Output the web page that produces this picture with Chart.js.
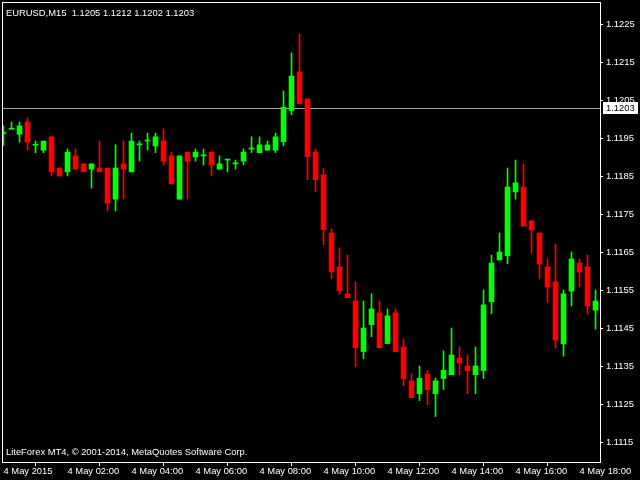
<!DOCTYPE html>
<html>
<head>
<meta charset="utf-8">
<script src="https://cdn.jsdelivr.net/npm/chart.js@4.4.1/dist/chart.umd.min.js"></script>
<style>
  html, body { margin: 0; padding: 0; background: #000; }
  #wrap { width: 640px; height: 480px; }
</style>
</head>
<body>
<div id="wrap"><canvas id="candles"></canvas></div>
<script>
// EURUSD M15, 4 May 2015 00:00 .. 18:30 (one bar per 15 minutes)
var opens  = [1.11962,1.11973,1.11960,1.11992,1.11931,1.11918,1.11953,1.11871,1.11861,1.11903,
              1.11882,1.11868,1.11871,1.11871,1.11789,1.11882,1.11861,1.11932,1.11942,1.11929,
              1.11942,1.11903,1.11789,1.11913,1.11900,1.11903,1.11913,1.11868,1.11892,1.11882,
              1.11889,1.11921,1.11911,1.11918,1.11918,1.11940,1.12022,1.12124,1.12053,1.11913,
              1.11853,1.11700,1.11611,1.11540,1.11521,1.11388,1.11459,1.11490,1.11409,1.11490,
              1.11400,1.11311,1.11277,1.11329,1.11277,1.11317,1.11327,1.11371,1.11350,1.11327,
              1.11338,1.11519,1.11629,1.11640,1.11808,1.11821,1.11732,1.11700,1.11611,1.11571,
              1.11408,1.11547,1.11621,1.11611,1.11497];
var highs  = [1.11982,1.11992,1.11992,1.12003,1.11942,1.11942,1.11953,1.11871,1.11921,1.11921,
              1.11882,1.11882,1.11942,1.11871,1.11932,1.11942,1.11963,1.11942,1.11963,1.11963,
              1.11974,1.11913,1.11903,1.11913,1.11921,1.11921,1.11913,1.11903,1.11892,1.11892,
              1.11921,1.11953,1.11953,1.11942,1.11963,1.12074,1.12174,1.12224,1.12053,1.11921,
              1.11871,1.11711,1.11661,1.11642,1.11571,1.11521,1.11540,1.11521,1.11500,1.11500,
              1.11421,1.11329,1.11350,1.11339,1.11318,1.11390,1.11450,1.11400,1.11379,1.11400,
              1.11550,1.11642,1.11700,1.11871,1.11892,1.11882,1.11732,1.11700,1.11632,1.11671,
              1.11550,1.11650,1.11632,1.11642,1.11550];
var lows   = [1.11930,1.11973,1.11939,1.11918,1.11911,1.11911,1.11850,1.11850,1.11850,1.11868,
              1.11861,1.11818,1.11861,1.11758,1.11758,1.11789,1.11861,1.11889,1.11918,1.11911,
              1.11879,1.11829,1.11789,1.11789,1.11889,1.11879,1.11850,1.11868,1.11861,1.11868,
              1.11879,1.11911,1.11911,1.11918,1.11911,1.11930,1.12011,1.12040,1.11840,1.11809,
              1.11669,1.11580,1.11538,1.11530,1.11348,1.11369,1.11427,1.11398,1.11409,1.11388,
              1.11298,1.11267,1.11259,1.11248,1.11217,1.11288,1.11327,1.11327,1.11277,1.11277,
              1.11317,1.11488,1.11629,1.11619,1.11789,1.11718,1.11647,1.11579,1.11518,1.11397,
              1.11376,1.11508,1.11558,1.11487,1.11447];
var closes = [1.11962,1.11973,1.11982,1.11939,1.11931,1.11942,1.11861,1.11850,1.11913,1.11868,
              1.11861,1.11882,1.11861,1.11779,1.11871,1.11868,1.11942,1.11932,1.11942,1.11953,
              1.11889,1.11829,1.11903,1.11889,1.11913,1.11903,1.11879,1.11882,1.11892,1.11882,
              1.11913,1.11921,1.11932,1.11932,1.11953,1.12031,1.12113,1.12040,1.11901,1.11840,
              1.11709,1.11598,1.11548,1.11530,1.11398,1.11450,1.11500,1.11398,1.11482,1.11388,
              1.11317,1.11267,1.11318,1.11288,1.11311,1.11339,1.11379,1.11358,1.11338,1.11350,
              1.11511,1.11621,1.11650,1.11821,1.11832,1.11718,1.11708,1.11618,1.11558,1.11418,
              1.11540,1.11632,1.11597,1.11508,1.11521];

var timeLabels = ["4 May 2015", "4 May 02:00", "4 May 04:00", "4 May 06:00", "4 May 08:00",
                  "4 May 10:00", "4 May 12:00", "4 May 14:00", "4 May 16:00", "4 May 18:00"];
var priceTicks = [1.1225, 1.1215, 1.1205, 1.1195, 1.1185, 1.1175, 1.1165, 1.1155, 1.1145, 1.1135, 1.1125, 1.1115];
var bidPrice = 1.1203;
var headerText = "EURUSD,M15  1.1205 1.1212 1.1202 1.1203";
var footerText = "LiteForex MT4, \u00A9 2001-2014, MetaQuotes Software Corp.";

var BULL = "#00ff00", BEAR = "#ff0000";
var FONT = { family: "'Liberation Sans', Arial, sans-serif", size: 9.4 };

// build bars: body = [open, close], wick = [low, high]
var bodies = [], wicks = [], colors = [];
for (var i = 0; i < opens.length; i++) {
  bodies.push({ x: i, y: [opens[i], closes[i]] });
  wicks.push({ x: i, y: [lows[i], highs[i]] });
  colors.push(closes[i] >= opens[i] ? BULL : BEAR);
}

// no extra room for half labels, the frame sits right at the padding
function noPad(scale) {
  scale.paddingTop = 0;
  scale.paddingBottom = 0;
  scale.paddingLeft = 0;
  scale.paddingRight = 0;
}

// frame, price line and texts in MT4 style
var mtDecor = {
  id: 'mtDecor',
  beforeDatasetsDraw: function(chart) {
    var ctx = chart.ctx, a = chart.chartArea;
    var y = Math.round(chart.scales.y.getPixelForValue(bidPrice)) + 0.5;
    ctx.save();
    ctx.strokeStyle = "#a0a0a0";
    ctx.lineWidth = 1;
    ctx.beginPath();
    ctx.moveTo(a.left, y);
    ctx.lineTo(a.right, y);
    ctx.stroke();
    ctx.restore();
  },
  afterDraw: function(chart) {
    var ctx = chart.ctx, a = chart.chartArea;
    ctx.save();
    ctx.strokeStyle = "#ffffff";
    ctx.lineWidth = 1;
    ctx.strokeRect(a.left + 0.5, a.top + 0.5, a.right - a.left, a.bottom - a.top);

    ctx.font = FONT.size + "px " + FONT.family;
    ctx.fillStyle = "#ffffff";
    ctx.textBaseline = "middle";
    ctx.textAlign = "left";
    ctx.fillText(headerText, a.left + 4, a.top + 11);
    ctx.fillText(footerText, a.left + 4, a.bottom - 10);

    // bid label on the price scale
    var y = Math.round(chart.scales.y.getPixelForValue(bidPrice));
    ctx.fillStyle = "#ffffff";
    ctx.fillRect(a.right + 3, y - 6, 35, 12);
    ctx.fillStyle = "#000000";
    ctx.fillText(bidPrice.toFixed(4), a.right + 6, y + 0.5);
    ctx.restore();
  }
};

new Chart(document.getElementById("candles"), {
  type: 'bar',
  data: {
    datasets: [
      {
        label: "body",
        data: bodies,
        backgroundColor: colors,
        borderWidth: 0,
        barThickness: 5,
        minBarLength: 1,
        grouped: false
      },
      {
        label: "wick",
        data: wicks,
        backgroundColor: colors,
        borderWidth: 0,
        barThickness: 1,
        minBarLength: 1,
        grouped: false
      }
    ]
  },
  options: {
    responsive: true,
    maintainAspectRatio: false,
    animation: false,
    events: [],
    layout: { padding: { left: 2, top: 2, right: 0, bottom: 0 } },
    plugins: { legend: { display: false }, tooltip: { enabled: false } },
    scales: {
      x: {
        type: 'linear',
        position: 'bottom',
        min: -0.1875,
        max: 74.5625,
        offset: false,
        afterBuildTicks: function(scale) {
          scale.ticks = timeLabels.map(function(t, k) { return { value: k * 8 }; });
        },
        afterFit: function(scale) { scale.height = 18; noPad(scale); },
        grid: { drawOnChartArea: false, drawTicks: true, tickLength: 4, color: "#ffffff" },
        border: { display: false },
        ticks: {
          color: "#ffffff",
          font: FONT,
          align: 'start',
          padding: 0,
          maxRotation: 0,
          autoSkip: false,
          callback: function(v, k) { return timeLabels[k]; }
        }
      },
      y: {
        type: 'linear',
        position: 'right',
        min: 1.110974,
        max: 1.123079,
        afterBuildTicks: function(scale) {
          scale.ticks = priceTicks.map(function(p) { return { value: p }; });
        },
        afterFit: function(scale) { scale.width = 40; noPad(scale); },
        grid: { drawOnChartArea: false, drawTicks: true, tickLength: 3, color: "#ffffff" },
        border: { display: false },
        ticks: {
          color: "#ffffff",
          font: FONT,
          padding: 3,
          callback: function(v) { return Number(v).toFixed(4); }
        }
      }
    }
  },
  plugins: [mtDecor]
});
</script>
</body>
</html>
